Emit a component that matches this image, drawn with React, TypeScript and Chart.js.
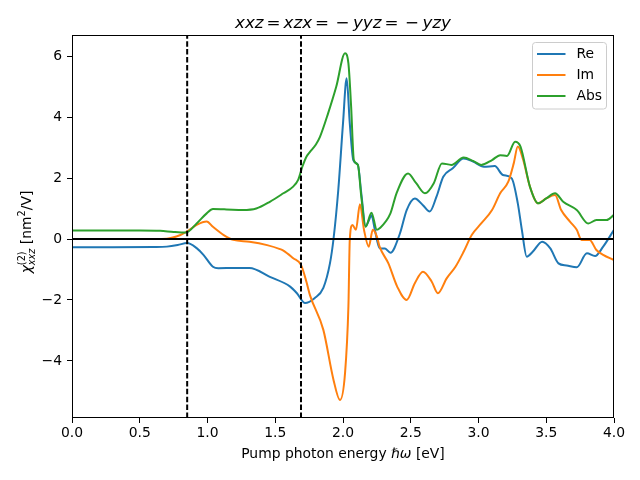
import React, { useEffect, useRef } from "react";
import { Chart, registerables } from "chart.js";

Chart.register(...registerables);

const reX = [0, 0.3, 0.6, 0.7, 0.78, 0.85, 0.92, 0.97, 1.04, 1.08, 1.2, 1.31, 1.46, 1.61, 1.66, 1.72, 1.79, 1.855, 1.904, 1.93, 1.965, 2.0, 2.027, 2.05, 2.076, 2.11, 2.135, 2.167, 2.19, 2.21, 2.235, 2.27, 2.31, 2.35, 2.42, 2.47, 2.53, 2.59, 2.64, 2.69, 2.74, 2.81, 2.89, 2.96, 3.04, 3.12, 3.18, 3.245, 3.29, 3.32, 3.356, 3.4, 3.47, 3.53, 3.59, 3.65, 3.725, 3.8, 3.86, 3.92, 4.0];
const reY = [-0.27, -0.27, -0.26, -0.25, -0.2, -0.13, -0.3, -0.52, -0.91, -0.96, -0.95, -0.95, -1.24, -1.56, -1.78, -2.1, -1.94, -1.6, -0.79, 0, 1.6, 3.79, 5.27, 3.8, 2.59, 2.43, 1.5, 0.42, 0.6, 0.78, 0.3, -0.3, -0.31, -0.45, 0.18, 0.95, 1.33, 1.11, 0.9, 1.39, 2.04, 2.32, 2.64, 2.54, 2.37, 2.39, 2.1, 1.99, 1.17, 0.3, -0.58, -0.42, -0.09, -0.31, -0.8, -0.87, -0.93, -0.47, -0.56, -0.25, 0.3];

const imX = [0, 0.5, 0.7, 0.8, 0.846, 0.92, 0.994, 1.04, 1.12, 1.19, 1.31, 1.44, 1.535, 1.56, 1.633, 1.69, 1.73, 1.756, 1.855, 1.93, 1.978, 2.015, 2.04, 2.05, 2.07, 2.095, 2.125, 2.155, 2.19, 2.22, 2.25, 2.27, 2.335, 2.4, 2.47, 2.53, 2.59, 2.655, 2.7, 2.765, 2.83, 2.89, 2.95, 3.02, 3.1, 3.16, 3.22, 3.26, 3.29, 3.33, 3.38, 3.44, 3.5, 3.565, 3.61, 3.675, 3.725, 3.76, 3.82, 3.87, 3.92, 4.0];
const imY = [0, 0, 0.01, 0.13, 0.24, 0.46, 0.57, 0.4, 0.13, -0.03, -0.09, -0.2, -0.33, -0.38, -0.63, -0.85, -1.4, -1.84, -2.98, -4.62, -5.28, -4.4, -2.2, -0.03, 0.46, 0.3, 1.14, 0.3, -0.25, 0.3, 0.08, -0.25, -0.8, -1.56, -2.0, -1.45, -1.07, -1.4, -1.78, -1.29, -0.91, -0.42, 0.13, 0.51, 0.95, 1.5, 1.88, 2.48, 3.03, 2.59, 1.71, 1.17, 1.33, 1.44, 0.95, 0.57, 0.3, -0.03, -0.03, -0.36, -0.52, -0.69];

const absX = [0, 0.5, 0.65, 0.75, 0.84, 0.92, 0.994, 1.04, 1.14, 1.26, 1.36, 1.46, 1.56, 1.63, 1.67, 1.7, 1.73, 1.755, 1.8, 1.83, 1.89, 1.95, 2.015, 2.04, 2.06, 2.08, 2.11, 2.135, 2.167, 2.21, 2.25, 2.27, 2.35, 2.395, 2.48, 2.54, 2.605, 2.67, 2.73, 2.8, 2.89, 2.96, 3.02, 3.1, 3.16, 3.21, 3.27, 3.31, 3.38, 3.44, 3.5, 3.565, 3.625, 3.725, 3.81, 3.87, 3.945, 4.0];
const absY = [0.28, 0.28, 0.27, 0.23, 0.21, 0.51, 0.84, 0.98, 0.97, 0.95, 1.0, 1.22, 1.5, 1.71, 1.95, 2.37, 2.7, 2.85, 3.1, 3.35, 4.12, 4.99, 6.09, 5.76, 4.34, 2.59, 2.43, 1.39, 0.4, 0.86, 0.3, 0.35, 0.84, 1.5, 2.15, 1.83, 1.5, 1.83, 2.48, 2.43, 2.67, 2.56, 2.43, 2.59, 2.75, 2.72, 3.19, 3.03, 1.71, 1.17, 1.33, 1.5, 1.22, 0.95, 0.51, 0.62, 0.62, 0.79];

const seriesLabels = ["Re", "Im", "Abs"];
const seriesColors = ["#1f77b4", "#ff7f0e", "#2ca02c"];
const vLines = [0.85, 1.69];
const xTicks = [0, 0.5, 1, 1.5, 2, 2.5, 3, 3.5, 4];
const yTicks = [-4, -2, 0, 2, 4, 6];
const xRange = [0, 4];
const yRange = [-5.87, 6.69];

const FONT = "'DejaVu Sans', sans-serif";

type Run = { t: string; size: number; italic?: boolean; dy?: number; gap?: number; stack?: { sup: string; sub: string; supDy: number; subDy: number; subItalic?: boolean; supItalic?: boolean } };

function setFont(ctx: CanvasRenderingContext2D, size: number, italic?: boolean) {
  ctx.font = `${italic ? "oblique " : ""}${size}px ${FONT}`;
}

function runWidth(ctx: CanvasRenderingContext2D, r: Run) {
  if (r.gap !== undefined) return r.gap;
  if (r.stack) {
    setFont(ctx, r.size, r.stack.supItalic);
    const a = ctx.measureText(r.stack.sup).width;
    setFont(ctx, r.size, r.stack.subItalic);
    const b = ctx.measureText(r.stack.sub).width;
    return Math.max(a, b);
  }
  setFont(ctx, r.size, r.italic);
  return ctx.measureText(r.t).width;
}

function drawRuns(ctx: CanvasRenderingContext2D, runs: Run[], cx: number, baseY: number) {
  const widths = runs.map((r) => runWidth(ctx, r));
  const total = widths.reduce((a, b) => a + b, 0);
  let x = cx - total / 2;
  ctx.textBaseline = "alphabetic";
  ctx.textAlign = "left";
  runs.forEach((r, i) => {
    if (r.gap !== undefined) {
      // spacing only
    } else if (r.stack) {
      setFont(ctx, r.size, r.stack.supItalic);
      ctx.fillText(r.stack.sup, x, baseY + r.stack.supDy);
      setFont(ctx, r.size, r.stack.subItalic);
      ctx.fillText(r.stack.sub, x, baseY + r.stack.subDy);
    } else {
      setFont(ctx, r.size, r.italic);
      ctx.fillText(r.t, x, baseY + (r.dy || 0));
    }
    x += widths[i];
  });
}

const textPlugin = {
  id: "texts",
  afterDraw(chart: any) {
    const ctx: CanvasRenderingContext2D = chart.ctx;
    const ca = chart.chartArea;
    ctx.save();
    // frame
    ctx.strokeStyle = "#000";
    ctx.lineWidth = 1;
    ctx.strokeRect(Math.round(ca.left) + 0.5, Math.round(ca.top) + 0.5, Math.round(ca.right - ca.left) - 1, Math.round(ca.bottom - ca.top) - 1);
    ctx.fillStyle = "#000";
    const cx = (ca.left + ca.right) / 2;
    // title
    const ts = 16.7;
    drawRuns(ctx, [
      { t: "xxz", size: ts, italic: true },
      { t: "", size: ts, gap: 3 },
      { t: "=", size: ts },
      { t: "", size: ts, gap: 3 },
      { t: "xzx", size: ts, italic: true },
      { t: "", size: ts, gap: 3 },
      { t: "=", size: ts },
      { t: "", size: ts, gap: 6.5 },
      { t: "−", size: ts },
      { t: "", size: ts, gap: 3.5 },
      { t: "yyz", size: ts, italic: true },
      { t: "", size: ts, gap: 3 },
      { t: "=", size: ts },
      { t: "", size: ts, gap: 6.5 },
      { t: "−", size: ts },
      { t: "", size: ts, gap: 3.5 },
      { t: "yzy", size: ts, italic: true },
    ], cx, 28);
    // x label
    const fs = 13.9;
    drawRuns(ctx, [
      { t: "Pump photon energy ", size: fs },
      { t: "ℏω", size: fs, italic: true },
      { t: " [eV]", size: fs },
    ], cx, 458);
    // y label
    ctx.save();
    ctx.translate(31, 232);
    ctx.rotate(-Math.PI / 2);
    drawRuns(ctx, [
      { t: "χ", size: fs, italic: true },
      { t: "", size: 9.7, stack: { sup: "(2)", sub: "xxz", supDy: -6.5, subDy: 4, subItalic: true } },
      { t: " [nm", size: fs },
      { t: "2", size: 9.7, dy: -6 },
      { t: "/V]", size: fs },
    ], 0, 0);
    ctx.restore();
    // legend
    const lx = 532.5, ly = 42.5, lw = 74, lh = 66.5;
    ctx.beginPath();
    (ctx as any).roundRect(lx, ly, lw, lh, 3);
    ctx.fillStyle = "rgba(255,255,255,0.8)";
    ctx.fill();
    ctx.strokeStyle = "#cccccc";
    ctx.lineWidth = 1;
    ctx.stroke();
    const rows = [54, 75, 96];
    chart.data.datasets.slice(0, 3).forEach((ds: any, i: number) => {
      ctx.strokeStyle = ds.borderColor;
      ctx.lineWidth = 2;
      ctx.beginPath();
      ctx.moveTo(537, rows[i]);
      ctx.lineTo(565.5, rows[i]);
      ctx.stroke();
      ctx.fillStyle = "#000";
      setFont(ctx, fs);
      ctx.textBaseline = "middle";
      ctx.textAlign = "left";
      ctx.fillText(ds.label, 576.5, rows[i] + 0.5);
    });
    ctx.restore();
  },
};

export default function App() {
  const ref = useRef<HTMLCanvasElement>(null);
  useEffect(() => {
    if (!ref.current) return;
    const toPts = (xs: number[], ys: number[]) => xs.map((x, i) => ({ x, y: ys[i] }));
    const series = [toPts(reX, reY), toPts(imX, imY), toPts(absX, absY)];
    const datasets: any[] = series.map((d, i) => ({
      label: seriesLabels[i],
      data: d,
      borderColor: seriesColors[i],
      borderWidth: 2,
      pointRadius: 0,
      cubicInterpolationMode: "monotone",
      order: 10 - i,
      fill: false,
    }));
    datasets.push({
      label: "zero",
      data: [{ x: xRange[0], y: 0 }, { x: xRange[1], y: 0 }],
      borderColor: "#000",
      borderWidth: 2,
      pointRadius: 0,
      order: 1,
    });
    vLines.forEach((v) => {
      datasets.push({
        label: "v" + v,
        data: [{ x: v, y: yRange[0] }, { x: v, y: yRange[1] }],
        borderColor: "#000",
        borderWidth: 2,
        borderDash: [5.5, 2.4],
        pointRadius: 0,
        order: 1,
      });
    });
    const tickFont = { family: FONT, size: 13.9 };
    const chart = new Chart(ref.current, {
      type: "line",
      data: { datasets },
      plugins: [textPlugin],
      options: {
        animation: false,
        responsive: false,
        layout: { padding: { top: 35, right: 26, left: 0, bottom: 0 } },
        plugins: { legend: { display: false }, tooltip: { enabled: false }, title: { display: false } },
        scales: {
          x: {
            type: "linear",
            min: xRange[0],
            max: xRange[1],
            afterBuildTicks: (s: any) => { s.ticks = xTicks.map((v) => ({ value: v })); },
            afterFit: (s: any) => { s.height = 62; },
            ticks: { font: tickFont, color: "#000", padding: 2, maxRotation: 0, autoSkip: false, callback: (v: any) => Number(v).toFixed(1) },
            grid: { drawOnChartArea: false, drawTicks: true, tickLength: 5, color: "#000", lineWidth: 1 },
            border: { display: false },
          },
          y: {
            type: "linear",
            min: yRange[0],
            max: yRange[1],
            afterBuildTicks: (s: any) => { s.ticks = yTicks.map((v) => ({ value: v })); },
            afterFit: (s: any) => { s.width = 72; },
            ticks: { font: tickFont, color: "#000", padding: 5, autoSkip: false, callback: (v: any) => (v < 0 ? "−" + Math.abs(v) : String(v)) },
            grid: { drawOnChartArea: false, drawTicks: true, tickLength: 5, color: "#000", lineWidth: 1 },
            border: { display: false },
          },
        },
      } as any,
    });
    return () => chart.destroy();
  }, []);
  return (
    <div style={{ position: "fixed", left: 0, top: 0, width: 640, height: 480, background: "#fff" }}>
      <canvas ref={ref} width={640} height={480} style={{ display: "block" }} />
    </div>
  );
}
